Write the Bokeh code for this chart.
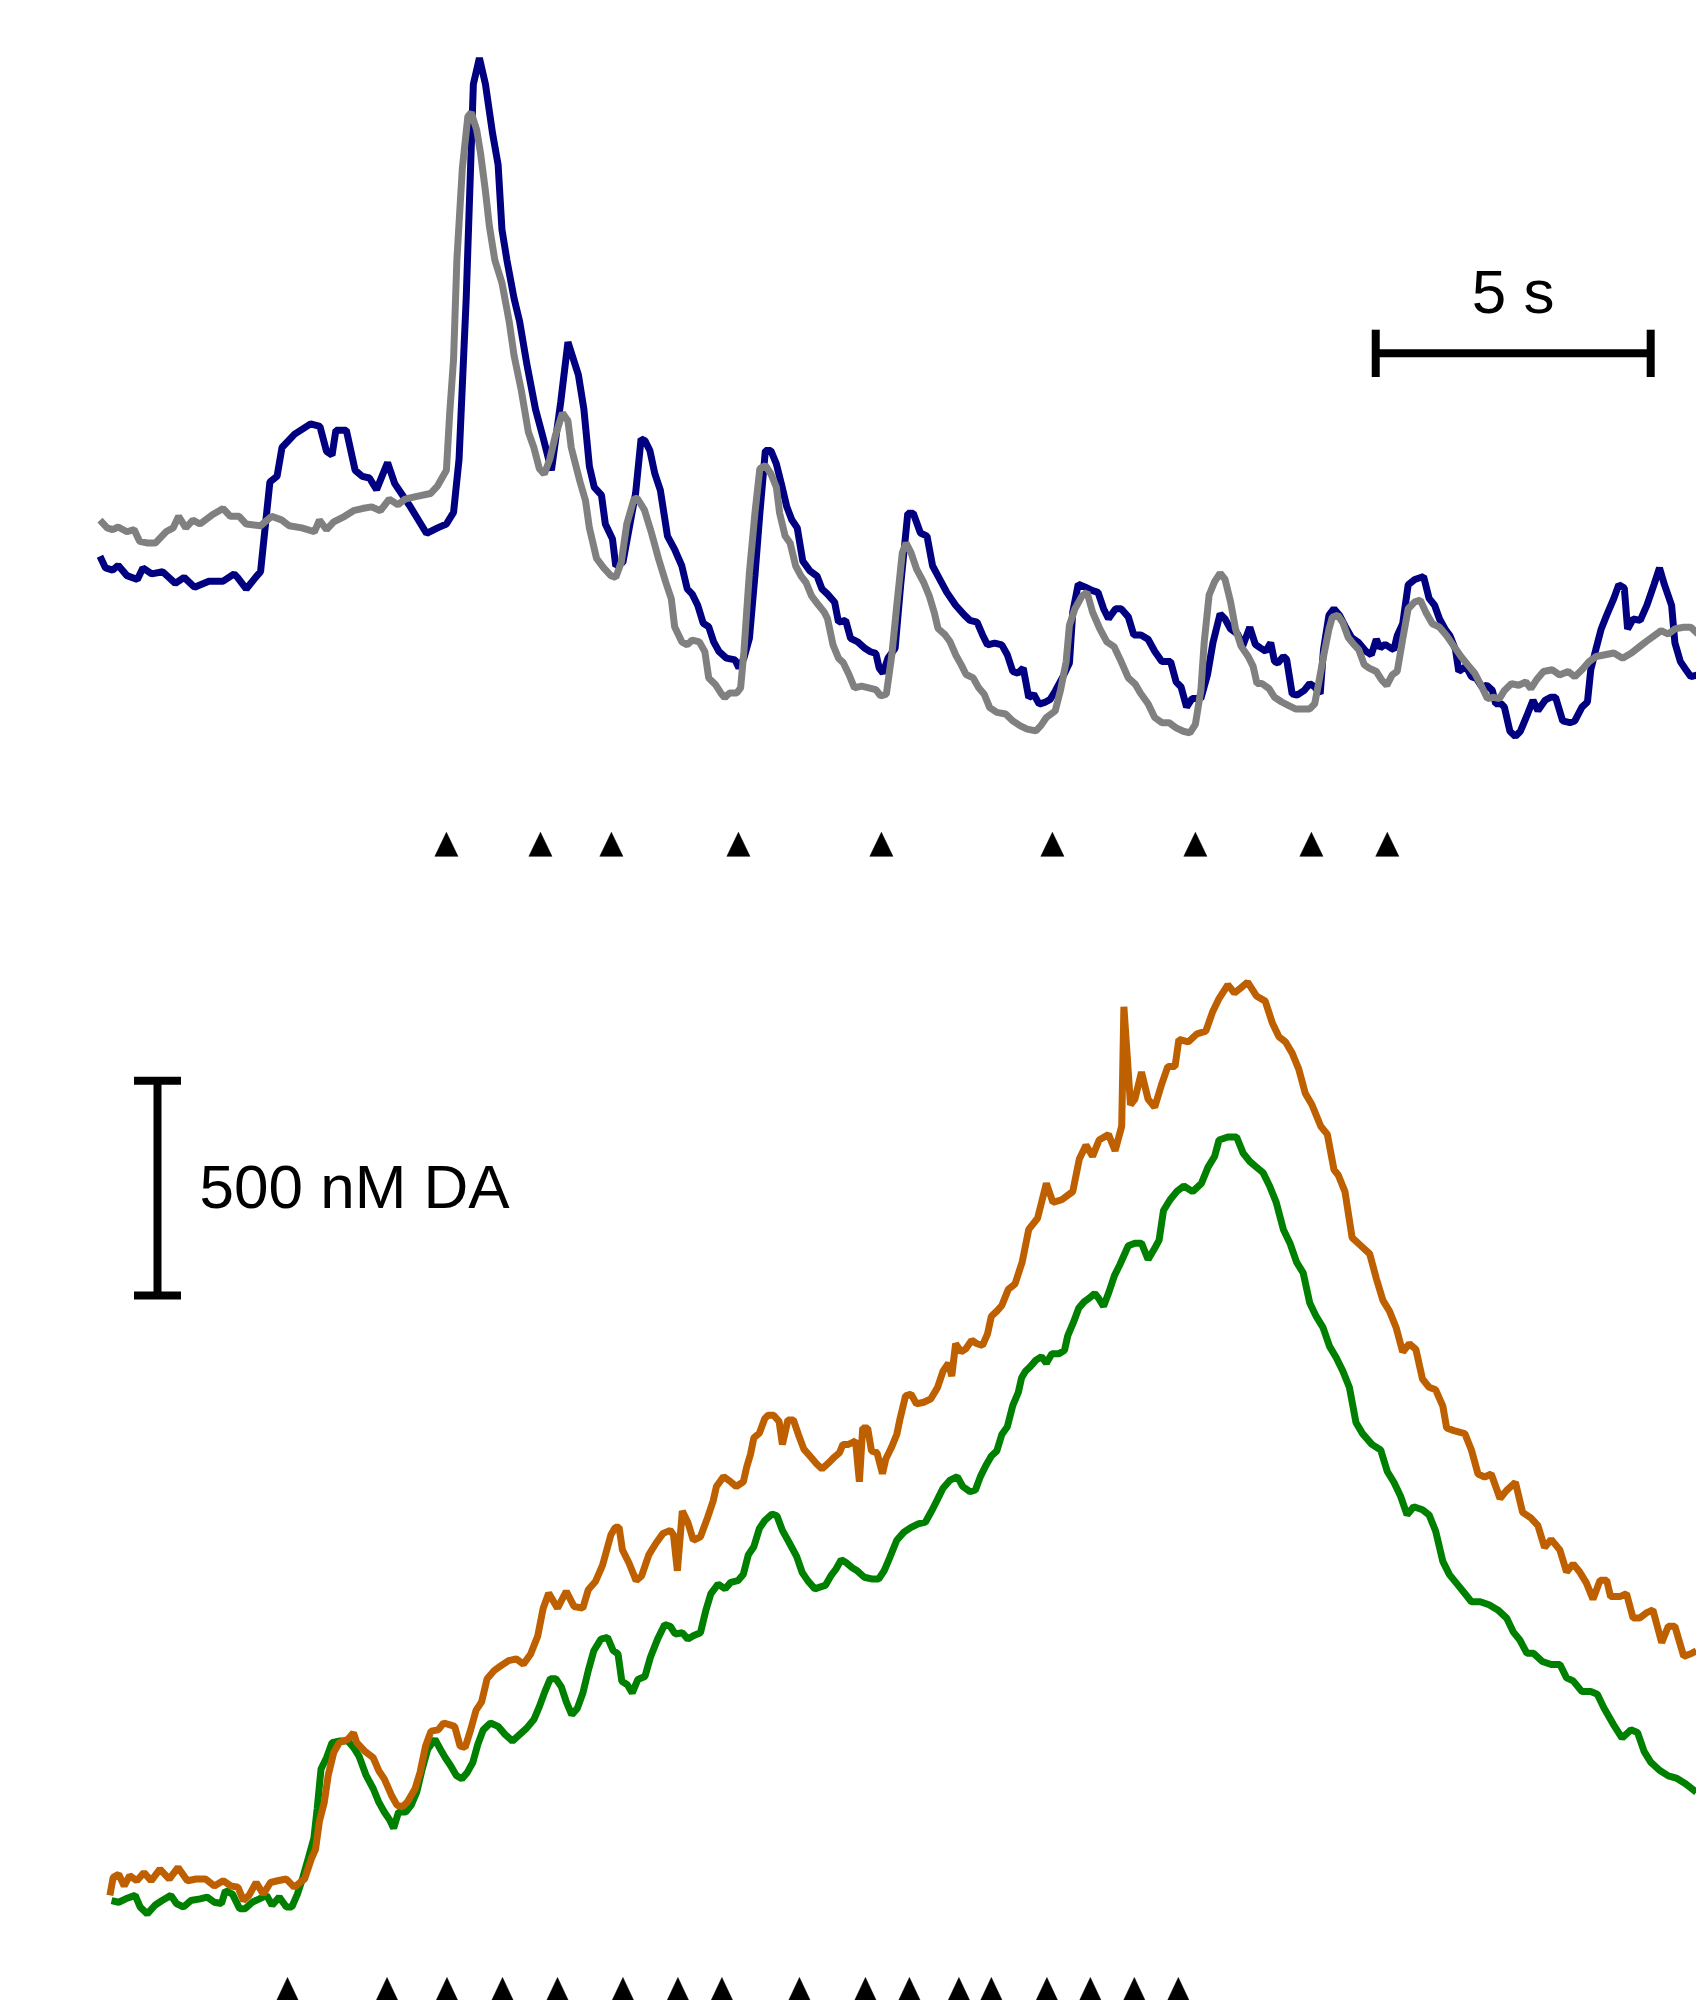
from bokeh.plotting import figure
from bokeh.layouts import column
from bokeh.models import Range1d
from bokeh.embed import file_html
from bokeh.resources import INLINE
from bokeh.core.properties import value

# ---------------- data (time in s, concentration in nM) ----------------
blue_t = [0.00, 0.10, 0.23, 0.33, 0.49, 0.68, 0.78, 0.94, 1.14, 1.37,
          1.53, 1.72, 1.98, 2.24, 2.44, 2.50, 2.66, 2.83, 2.92, 3.09,
          3.22, 3.31, 3.54, 3.83, 4.00, 4.12, 4.22, 4.29, 4.48, 4.64,
          4.77, 4.90, 5.03, 5.23, 5.36, 5.62, 5.94, 6.14, 6.30, 6.43,
          6.53, 6.66, 6.79, 6.90, 7.01, 7.14, 7.24, 7.31, 7.40, 7.53,
          7.63, 7.76, 7.92, 8.05, 8.21, 8.38, 8.51, 8.70, 8.80, 8.90,
          8.99, 9.12, 9.19, 9.32, 9.38, 9.51, 9.74, 9.84, 9.91, 10.00,
          10.09, 10.19, 10.32, 10.45, 10.58, 10.68, 10.77, 10.87, 10.97, 11.07,
          11.16, 11.26, 11.39, 11.55, 11.62, 11.71, 11.81, 11.91, 12.00, 12.10,
          12.20, 12.30, 12.39, 12.49, 12.58, 12.68, 12.78, 12.91, 13.04, 13.13,
          13.23, 13.36, 13.43, 13.56, 13.65, 13.78, 13.91, 14.01, 14.11, 14.17,
          14.24, 14.33, 14.46, 14.56, 14.69, 14.79, 14.92, 15.04, 15.14, 15.27,
          15.40, 15.56, 15.72, 15.82, 15.95, 16.05, 16.14, 16.27, 16.40, 16.50,
          16.60, 16.69, 16.79, 16.89, 16.98, 17.08, 17.18, 17.28, 17.37, 17.50,
          17.63, 17.69, 17.79, 17.92, 18.05, 18.15, 18.25, 18.34, 18.47, 18.57,
          18.70, 18.80, 18.93, 19.06, 19.18, 19.31, 19.47, 19.57, 19.66, 19.76,
          19.86, 20.02, 20.14, 20.24, 20.37, 20.46, 20.56, 20.69, 20.78, 20.91,
          21.01, 21.10, 21.20, 21.29, 21.36, 21.42, 21.52, 21.58, 21.68, 21.77,
          21.90, 22.00, 22.09, 22.19, 22.25, 22.35, 22.44, 22.54, 22.64, 22.76,
          22.89, 23.02, 23.12, 23.21, 23.28, 23.37, 23.47, 23.53, 23.59, 23.69,
          23.79, 23.91, 24.07, 24.17, 24.27, 24.36, 24.46, 24.55, 24.65, 24.71,
          24.84, 24.94, 25.03, 25.13, 25.22, 25.32, 25.38, 25.48, 25.54, 25.64,
          25.74, 25.83, 25.96, 26.06, 26.15, 26.28, 26.38, 26.47, 26.60, 26.73,
          26.82, 26.95, 27.05, 27.11, 27.21, 27.30, 27.40, 27.53, 27.62, 27.72,
          27.78, 27.88, 28.01, 28.13, 28.26, 28.36, 28.45, 28.58, 28.64, 28.74,
          28.84, 28.93, 29.06]
blue_c = [42, 15, 10, 21, -3, -12, 15, 1, 6, -21,
          -7, -30, -16, -16, 1, -7, -34, -7, 6, 215,
          228, 295, 326, 350, 344, 286, 277, 335, 335, 242,
          228, 224, 197, 260, 211, 162, 95, 108, 117, 144,
          268, 642, 1140, 1201, 1140, 1025, 953, 802, 731, 642,
          589, 491, 384, 322, 242, 402, 540, 464, 384, 251,
          202, 184, 117, 82, 19, 28, 188, 315, 311, 288,
          234, 196, 89, 58, 20, -34, -46, -72, -114, -122,
          -157, -180, -195, -199, -218, -195, -149, -4, 142, 288,
          288, 257, 211, 157, 127, 108, 31, 8, -4, -34,
          -46, -65, -111, -107, -149, -157, -172, -180, -184, -218,
          -230, -195, -172, -26, 142, 142, 96, 89, 20, -11,
          -42, -72, -95, -107, -111, -141, -164, -160, -164, -187,
          -226, -230, -218, -287, -279, -302, -298, -291, -272, -241,
          -206, -88, -23, -30, -38, -42, -80, -103, -80, -80,
          -99, -141, -141, -151, -179, -203, -203, -250, -262, -309,
          -289, -289, -234, -159, -92, -104, -127, -139, -167, -123,
          -163, -171, -179, -159, -203, -206, -191, -198, -278, -281,
          -270, -254, -262, -278, -175, -95, -80, -95, -120, -147,
          -159, -179, -187, -151, -171, -163, -171, -175, -143, -115,
          -24, -12, -5, -56, -72, -104, -127, -143, -175, -226,
          -214, -238, -242, -262, -258, -270, -301, -301, -309, -365,
          -377, -365, -325, -293, -317, -293, -286, -286, -341, -345,
          -341, -309, -297, -222, -171, -127, -95, -56, -24, -32,
          -127, -104, -107, -72, -24, 15, -24, -72, -159, -203,
          -222, -238, -234]

gray_t = [0.00, 0.13, 0.23, 0.33, 0.49, 0.62, 0.72, 0.85, 1.01, 1.20,
          1.33, 1.43, 1.56, 1.69, 1.82, 2.05, 2.24, 2.37, 2.53, 2.66,
          2.92, 3.12, 3.31, 3.44, 3.67, 3.90, 3.99, 4.12, 4.25, 4.45,
          4.61, 4.77, 4.94, 5.10, 5.26, 5.42, 5.55, 5.68, 6.01, 6.14,
          6.30, 6.36, 6.43, 6.49, 6.59, 6.69, 6.75, 6.85, 6.92, 7.01,
          7.08, 7.18, 7.31, 7.44, 7.53, 7.66, 7.79, 7.89, 7.99, 8.08,
          8.18, 8.28, 8.41, 8.51, 8.57, 8.64, 8.73, 8.83, 8.90, 9.03,
          9.16, 9.29, 9.38, 9.48, 9.58, 9.71, 9.77, 9.90, 10.03, 10.16,
          10.29, 10.39, 10.45, 10.58, 10.68, 10.77, 10.90, 11.00, 11.07, 11.19,
          11.29, 11.36, 11.45, 11.58, 11.65, 11.71, 11.81, 11.91, 12.00, 12.10,
          12.20, 12.30, 12.36, 12.46, 12.55, 12.65, 12.75, 12.84, 12.94, 13.07,
          13.17, 13.23, 13.33, 13.43, 13.52, 13.62, 13.72, 13.85, 13.98, 14.11,
          14.20, 14.30, 14.40, 14.49, 14.59, 14.66, 14.75, 14.85, 14.98, 15.08,
          15.17, 15.24, 15.37, 15.46, 15.56, 15.66, 15.75, 15.88, 15.98, 16.08,
          16.18, 16.31, 16.47, 16.60, 16.73, 16.86, 17.02, 17.11, 17.21, 17.37,
          17.47, 17.57, 17.63, 17.73, 17.86, 17.95, 18.05, 18.18, 18.31, 18.44,
          18.57, 18.70, 18.83, 18.92, 19.06, 19.18, 19.31, 19.44, 19.57, 19.70,
          19.82, 19.92, 20.02, 20.08, 20.17, 20.27, 20.37, 20.46, 20.56, 20.65,
          20.75, 20.88, 20.97, 21.04, 21.13, 21.26, 21.36, 21.49, 21.61, 21.74,
          22.00, 22.09, 22.16, 22.25, 22.35, 22.41, 22.51, 22.60, 22.70, 22.80,
          22.89, 22.99, 23.08, 23.21, 23.31, 23.40, 23.50, 23.59, 23.69, 23.79,
          23.91, 24.01, 24.11, 24.23, 24.36, 24.49, 24.62, 24.75, 24.87, 25.00,
          25.13, 25.23, 25.35, 25.45, 25.54, 25.67, 25.80, 25.93, 26.02, 26.12,
          26.25, 26.41, 26.54, 26.70, 26.82, 26.95, 27.08, 27.21, 27.37, 27.53,
          27.69, 27.85, 28.01, 28.13, 28.26, 28.39, 28.52, 28.64, 28.80, 28.93,
          29.06]
gray_c = [126, 108, 104, 110, 99, 104, 77, 73, 73, 99,
          108, 135, 108, 126, 117, 139, 153, 135, 135, 117,
          113, 135, 126, 113, 108, 99, 126, 104, 122, 135,
          148, 153, 157, 148, 175, 162, 175, 179, 188, 206,
          242, 375, 500, 731, 945, 1065, 1074, 1034, 980, 891,
          811, 731, 678, 589, 509, 429, 331, 295, 246, 233,
          268, 322, 375, 357, 295, 260, 215, 171, 108, 37,
          15, -3, -7, 28, 117, 175, 177, 150, 96, 35,
          -19, -57, -122, -157, -164, -153, -157, -180, -241, -256,
          -276, -287, -276, -276, -264, -180, 4, 142, 246, 253,
          234, 203, 142, 89, 73, 20, -4, -19, -50, -72,
          -88, -103, -164, -195, -206, -233, -264, -260, -264, -268,
          -283, -279, -187, -72, 50, 73, 50, 12, -19, -50,
          -88, -126, -141, -157, -187, -210, -233, -241, -264, -279,
          -310, -321, -325, -341, -352, -360, -364, -352, -333, -318,
          -268, -203, -118, -80, -50, -42, -88, -126, -157, -168,
          -203, -241, -256, -276, -301, -333, -345, -345, -357, -365,
          -369, -349, -270, -159, -48, -17, 3, -12, -64, -127,
          -167, -191, -214, -254, -254, -266, -286, -297, -305, -313,
          -313, -301, -254, -191, -127, -100, -95, -112, -147, -163,
          -175, -210, -218, -226, -246, -258, -234, -226, -151, -80,
          -64, -60, -88, -115, -123, -143, -167, -191, -210, -230,
          -262, -289, -286, -289, -270, -254, -258, -250, -266, -246,
          -226, -222, -234, -226, -238, -222, -203, -191, -187, -183,
          -195, -183, -167, -155, -143, -131, -139, -127, -123, -123,
          -139]

orange_t = [0.18, 0.24, 0.34, 0.44, 0.54, 0.67, 0.80, 0.93, 1.09, 1.26,
            1.42, 1.59, 1.75, 1.92, 2.08, 2.24, 2.38, 2.51, 2.61, 2.71,
            2.84, 2.97, 3.10, 3.23, 3.39, 3.53, 3.72, 3.85, 3.92, 3.99,
            4.08, 4.15, 4.25, 4.35, 4.51, 4.61, 4.67, 4.81, 4.97, 5.07,
            5.17, 5.30, 5.40, 5.50, 5.59, 5.73, 5.82, 5.92, 6.02, 6.15,
            6.25, 6.35, 6.45, 6.55, 6.64, 6.74, 6.84, 6.94, 7.04, 7.17,
            7.30, 7.43, 7.57, 7.70, 7.83, 7.96, 8.06, 8.16, 8.32, 8.48,
            8.62, 8.78, 8.88, 9.01, 9.14, 9.29, 9.37, 9.44, 9.50, 9.62,
            9.75, 9.85, 9.98, 10.11, 10.24, 10.37, 10.43, 10.50, 10.59, 10.69,
            10.79, 10.92, 11.05, 11.15, 11.21, 11.34, 11.47, 11.57, 11.70, 11.76,
            11.83, 11.89, 11.99, 12.09, 12.15, 12.25, 12.35, 12.41, 12.51, 12.61,
            12.70, 12.80, 12.93, 13.03, 13.13, 13.26, 13.35, 13.45, 13.51, 13.61,
            13.68, 13.74, 13.81, 13.87, 13.96, 14.03, 14.13, 14.23, 14.29, 14.39,
            14.49, 14.55, 14.65, 14.75, 14.85, 14.98, 15.11, 15.23, 15.33, 15.43,
            15.49, 15.56, 15.66, 15.75, 15.85, 15.95, 16.05, 16.14, 16.21, 16.31,
            16.40, 16.52, 16.64, 16.77, 16.89, 17.05, 17.21, 17.33, 17.49, 17.69,
            17.81, 17.93, 18.05, 18.17, 18.34, 18.46, 18.58, 18.62, 18.74, 18.82,
            18.94, 19.06, 19.18, 19.30, 19.42, 19.55, 19.62, 19.79, 19.95, 20.11,
            20.23, 20.35, 20.51, 20.63, 20.75, 20.87, 21.03, 21.19, 21.32, 21.44,
            21.56, 21.68, 21.80, 21.92, 22.04, 22.20, 22.32, 22.44, 22.52, 22.64,
            22.77, 22.93, 23.09, 23.21, 23.33, 23.45, 23.57, 23.69, 23.81, 23.93,
            24.05, 24.17, 24.29, 24.42, 24.49, 24.62, 24.82, 24.94, 25.06, 25.18,
            25.30, 25.46, 25.58, 25.74, 25.87, 26.02, 26.15, 26.27, 26.39, 26.55,
            26.67, 26.79, 26.91, 27.03, 27.15, 27.28, 27.40, 27.47, 27.64, 27.76,
            27.88, 28.00, 28.12, 28.24, 28.40, 28.52, 28.64, 28.80, 28.93, 29.03]
orange_c = [12, 54, 61, 34, 58, 46, 65, 46, 73, 50,
            77, 46, 50, 50, 34, 46, 34, 31, 0, 12,
            42, 15, 42, 46, 50, 31, 50, 99, 119, 184,
            229, 291, 344, 367, 375, 390, 367, 348, 332, 302,
            283, 245, 222, 218, 229, 260, 298, 359, 394, 397,
            413, 409, 405, 359, 356, 397, 443, 462, 516, 535,
            547, 558, 562, 550, 573, 615, 680, 715, 680, 719,
            684, 680, 723, 742, 780, 850, 868, 868, 816, 785,
            744, 755, 804, 831, 854, 861, 850, 767, 906, 880,
            838, 846, 891, 929, 963, 986, 974, 963, 974, 1008,
            1038, 1076, 1087, 1121, 1129, 1129, 1114, 1061, 1118, 1118,
            1084, 1050, 1031, 1016, 1004, 1019, 1031, 1042, 1061, 1061,
            1065, 1069, 974, 1099, 1099, 1046, 1042, 993, 1027, 1053,
            1084, 1121, 1174, 1178, 1155, 1159, 1167, 1193, 1231, 1250,
            1220, 1295, 1276, 1284, 1303, 1295, 1291, 1318, 1359, 1371,
            1384, 1422, 1434, 1485, 1561, 1587, 1668, 1624, 1630, 1649,
            1725, 1757, 1731, 1769, 1782, 1744, 1801, 2079, 1851, 1864,
            1927, 1864, 1845, 1896, 1940, 1940, 2003, 1997, 2016, 2022,
            2066, 2098, 2130, 2111, 2123, 2136, 2104, 2092, 2041, 2009,
            1997, 1971, 1934, 1877, 1851, 1801, 1782, 1700, 1687, 1649,
            1542, 1523, 1504, 1447, 1396, 1371, 1333, 1276, 1295, 1282,
            1213, 1194, 1188, 1150, 1099, 1093, 1086, 1048, 992, 985,
            992, 935, 954, 973, 903, 890, 872, 821, 840, 815,
            764, 783, 764, 739, 701, 745, 745, 707, 707, 714,
            657, 657, 669, 676, 600, 638, 638, 568, 574, 581]

green_t = [0.21, 0.34, 0.47, 0.64, 0.73, 0.86, 1.00, 1.13, 1.29, 1.39,
           1.52, 1.65, 1.82, 1.95, 2.08, 2.21, 2.28, 2.41, 2.54, 2.64,
           2.77, 2.90, 3.03, 3.13, 3.26, 3.39, 3.49, 3.59, 3.69, 3.79,
           3.89, 3.95, 4.02, 4.12, 4.22, 4.35, 4.51, 4.61, 4.71, 4.84,
           4.97, 5.07, 5.17, 5.27, 5.34, 5.43, 5.56, 5.66, 5.76, 5.86,
           5.96, 6.09, 6.19, 6.28, 6.38, 6.48, 6.58, 6.68, 6.78, 6.87,
           6.97, 7.10, 7.24, 7.37, 7.50, 7.63, 7.76, 7.89, 7.99, 8.09,
           8.19, 8.29, 8.39, 8.48, 8.58, 8.68, 8.78, 8.88, 8.98, 9.11,
           9.23, 9.33, 9.42, 9.49, 9.59, 9.68, 9.78, 9.91, 10.01, 10.14,
           10.27, 10.37, 10.46, 10.59, 10.69, 10.79, 10.92, 11.02, 11.11, 11.24,
           11.37, 11.47, 11.60, 11.70, 11.79, 11.89, 11.99, 12.09, 12.22, 12.31,
           12.41, 12.54, 12.67, 12.77, 12.87, 13.00, 13.09, 13.19, 13.29, 13.38,
           13.48, 13.58, 13.68, 13.77, 13.90, 14.03, 14.16, 14.26, 14.36, 14.49,
           14.62, 14.75, 14.88, 15.01, 15.14, 15.23, 15.33, 15.46, 15.59, 15.69,
           15.82, 15.92, 16.01, 16.11, 16.21, 16.31, 16.40, 16.50, 16.60, 16.70,
           16.76, 16.83, 16.92, 17.02, 17.12, 17.21, 17.31, 17.44, 17.54, 17.60,
           17.70, 17.80, 17.90, 17.99, 18.09, 18.16, 18.25, 18.35, 18.45, 18.55,
           18.70, 18.82, 18.94, 19.06, 19.18, 19.26, 19.34, 19.46, 19.58, 19.71,
           19.87, 20.03, 20.15, 20.27, 20.35, 20.51, 20.67, 20.79, 20.91, 21.03,
           21.15, 21.27, 21.39, 21.52, 21.64, 21.76, 21.88, 22.00, 22.12, 22.24,
           22.36, 22.48, 22.60, 22.72, 22.84, 22.96, 23.13, 23.29, 23.41, 23.53,
           23.65, 23.77, 23.89, 24.05, 24.17, 24.29, 24.42, 24.54, 24.70, 24.82,
           24.94, 25.10, 25.26, 25.42, 25.58, 25.70, 25.82, 25.95, 26.07, 26.23,
           26.39, 26.55, 26.67, 26.79, 26.95, 27.11, 27.23, 27.35, 27.52, 27.68,
           27.84, 27.96, 28.08, 28.20, 28.36, 28.52, 28.68, 28.84, 29.03]
green_c = [0, -4, 4, 12, -15, -31, -11, 0, 12, -7,
           -15, 0, 4, 8, -4, -7, 23, 15, -19, -19,
           -4, 4, 12, -11, 8, -15, -15, 15, 54, 99,
           145, 214, 306, 332, 367, 371, 371, 356, 336, 291,
           260, 229, 206, 187, 168, 206, 206, 222, 252, 306,
           352, 375, 352, 332, 313, 291, 283, 298, 321, 363,
           397, 413, 405, 386, 371, 386, 401, 421, 451, 486,
           516, 516, 497, 462, 432, 447, 482, 535, 581, 608,
           612, 582, 574, 510, 502, 483, 514, 521, 566, 608,
           642, 638, 620, 623, 608, 616, 623, 676, 714, 736,
           725, 740, 744, 759, 804, 823, 865, 884, 899, 895,
           861, 831, 800, 763, 744, 725, 729, 733, 755, 770,
           793, 785, 774, 767, 752, 748, 748, 767, 797, 838,
           857, 868, 876, 880, 910, 933, 959, 978, 986, 963,
           951, 955, 986, 1012, 1034, 1046, 1084, 1102, 1152, 1182,
           1216, 1231, 1242, 1257, 1265, 1250, 1272, 1272, 1280, 1314,
           1344, 1378, 1393, 1401, 1412, 1401, 1382, 1416, 1454, 1480,
           1523, 1529, 1529, 1491, 1517, 1536, 1605, 1630, 1649, 1662,
           1649, 1668, 1706, 1731, 1769, 1776, 1776, 1738, 1719, 1706,
           1693, 1662, 1624, 1561, 1529, 1485, 1460, 1390, 1358, 1333,
           1289, 1263, 1232, 1194, 1112, 1086, 1061, 1048, 998, 973,
           941, 897, 916, 909, 897, 859, 789, 758, 733, 714,
           695, 695, 688, 676, 657, 625, 606, 575, 575, 556,
           549, 549, 518, 511, 486, 486, 480, 448, 410, 378,
           397, 391, 347, 322, 303, 290, 284, 271, 252]

top_stim_t = [6.30, 8.01, 9.30, 11.61, 14.21, 17.32, 19.92, 22.03, 23.41]
bottom_stim_t = [3.41, 5.22, 6.31, 7.32, 8.32, 9.51, 10.51, 11.31, 12.72,
                 13.92, 14.72, 15.62, 16.21, 17.22, 18.01, 18.81, 19.61]

time_bar_t = [23.2, 28.2]      # 5 s
time_bar_c = 514
conc_bar_c = [1407, 1907]      # 500 nM
conc_bar_t = 1.046
time_label = "5 s"
conc_label = "500 nM DA"

# ---------------- figures ----------------
X_RANGE = (-1.809, 29.033)
FONT = "Liberation Sans"
LW = 7


def make_fig(h, y0, y1):
    p = figure(width=1696, height=h,
               x_range=Range1d(*X_RANGE), y_range=Range1d(y0, y1),
               output_backend="svg", toolbar_location=None,
               min_border=0, x_axis_location=None, y_axis_location=None)
    p.grid.visible = False
    p.outline_line_color = None
    p.background_fill_color = "white"
    p.border_fill_color = "white"
    return p


def stim_marks(p, times, tip_c, base_c, half_w):
    xs = [[t - half_w, t + half_w, t] for t in times]
    ys = [[base_c, base_c, tip_c] for _ in times]
    p.patches(xs, ys, fill_color="black", line_color="black", line_width=0.5)


p1 = make_fig(940, -851.7, 1334.7)
p1.line(blue_t, blue_c, line_color="#000080", line_width=LW)
p1.line(gray_t, gray_c, line_color="#808080", line_width=LW)
stim_marks(p1, top_stim_t, -600, -656, 0.21)

# 5 s scale bar
cap_c = 55
p1.segment(x0=[time_bar_t[0], time_bar_t[0], time_bar_t[1]],
           y0=[time_bar_c, time_bar_c - cap_c, time_bar_c - cap_c],
           x1=[time_bar_t[1], time_bar_t[0], time_bar_t[1]],
           y1=[time_bar_c, time_bar_c + cap_c, time_bar_c + cap_c],
           line_color="black", line_width=8)
p1.text(x=[(time_bar_t[0] + time_bar_t[1]) / 2], y=[657], text=[time_label],
        text_font=value(FONT), text_font_size="62px", text_align="center",
        text_baseline="alphabetic", text_color="black")

p2 = make_fig(1060, -232.5, 2233.0)
p2.line(green_t, green_c, line_color="#008000", line_width=LW)
p2.line(orange_t, orange_c, line_color="#BF6000", line_width=LW)
stim_marks(p2, bottom_stim_t, -179, -236, 0.21)

# 500 nM scale bar
cap_t = 0.427
p2.segment(x0=[conc_bar_t, conc_bar_t - cap_t, conc_bar_t - cap_t],
           y0=[conc_bar_c[0], conc_bar_c[0], conc_bar_c[1]],
           x1=[conc_bar_t, conc_bar_t + cap_t, conc_bar_t + cap_t],
           y1=[conc_bar_c[1], conc_bar_c[0], conc_bar_c[1]],
           line_color="black", line_width=8)
p2.text(x=[1.81], y=[1660], text=[conc_label],
        text_font=value(FONT), text_font_size="62px", text_align="left",
        text_baseline="alphabetic", text_color="black")

layout = column(p1, p2)
open("out.html", "w").write(file_html(layout, INLINE))
